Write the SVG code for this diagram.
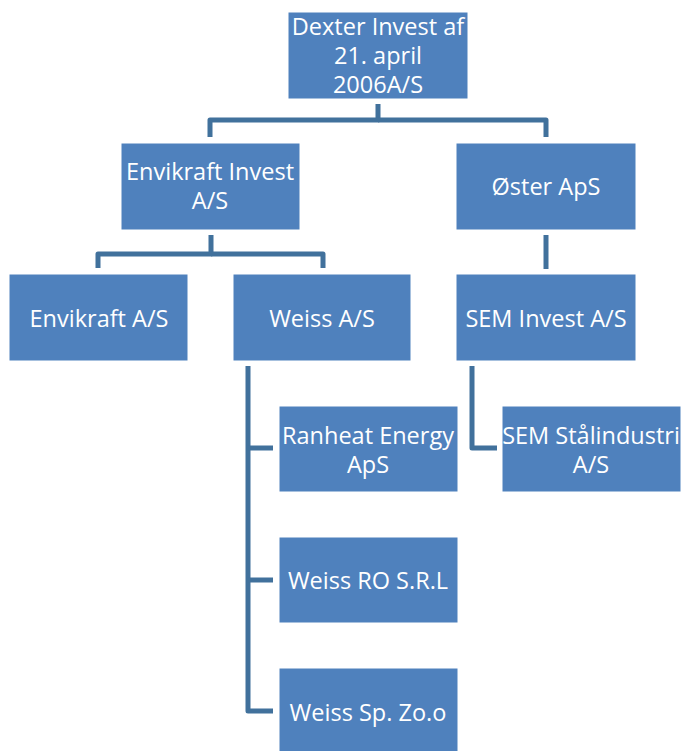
<svg xmlns="http://www.w3.org/2000/svg" width="682" height="751" viewBox="0 0 682 751">
<style>
.box{fill:#4f81bd;stroke:#ffffff;stroke-width:1}
.t{font-family:"Open Sans","Noto Sans",sans-serif;font-size:23.5px;fill:#ffffff;text-anchor:middle;dominant-baseline:central}
.c{fill:none;stroke:#41719c;stroke-width:5;stroke-linejoin:round}
</style>
<rect width="682" height="751" fill="#ffffff"/>
<g id="connectors">
<path class="c" d="M378,104 V120 H210 V137"/>
<path class="c" d="M378,120 H546 V137"/>
<path class="c" d="M211,235 V254 H98 V268"/>
<path class="c" d="M211,254 H323 V268"/>
<path class="c" d="M546,235 V269"/>
<path class="c" d="M248,366 V711 H273"/>
<path class="c" d="M248,448 H273"/>
<path class="c" d="M248,580 H273"/>
<path class="c" d="M472,366 V448 H497"/>
</g>
<g id="n-dexter"><rect class="box" x="288" y="12" width="180" height="87"/><text class="t" x="378" y="26">Dexter Invest af</text><text class="t" x="378" y="55">21. april</text><text class="t" x="378" y="84">2006A/S</text></g>
<g id="n-envikraft-invest"><rect class="box" x="121" y="143" width="179" height="87"/><text class="t" x="210" y="171">Envikraft Invest</text><text class="t" x="210" y="200">A/S</text></g>
<g id="n-oster"><rect class="box" x="456" y="143" width="180" height="87"/><text class="t" x="546" y="186">Øster ApS</text></g>
<g id="n-envikraft"><rect class="box" x="9" y="274" width="179" height="87"/><text class="t" x="99" y="318">Envikraft A/S</text></g>
<g id="n-weiss"><rect class="box" x="233" y="274" width="178" height="87"/><text class="t" x="322" y="318">Weiss A/S</text></g>
<g id="n-sem-invest"><rect class="box" x="456" y="274" width="180" height="87"/><text class="t" x="546" y="318">SEM Invest A/S</text></g>
<g id="n-ranheat"><rect class="box" x="279" y="406" width="179" height="86"/><text class="t" x="368" y="435">Ranheat Energy</text><text class="t" x="368" y="464">ApS</text></g>
<g id="n-sem-staal"><rect class="box" x="502" y="406" width="179" height="86"/><text class="t" x="591" y="435">SEM Stålindustri</text><text class="t" x="591" y="464">A/S</text></g>
<g id="n-weiss-ro"><rect class="box" x="279" y="537" width="179" height="86"/><text class="t" x="368" y="580">Weiss RO S.R.L</text></g>
<g id="n-weiss-sp"><rect class="box" x="279" y="668" width="179" height="86"/><text class="t" x="368" y="712">Weiss Sp. Zo.o</text></g>
</svg>
